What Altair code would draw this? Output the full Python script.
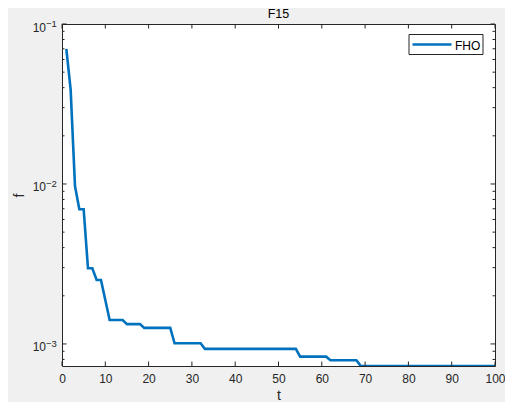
import altair as alt
import pandas as pd

# ---- data ----
t_values = list(range(1, 101))
f_values = (
    [0.0698, 0.0387, 0.0097, 0.00695, 0.00695, 0.00297, 0.00297, 0.00251, 0.00251, 0.00188]
    + [0.00141] * 4      # t = 11..14
    + [0.00133] * 4      # t = 15..18
    + [0.00126] * 7      # t = 19..25
    + [0.00101] * 7      # t = 26..32
    + [0.000931] * 22    # t = 33..54
    + [0.000833] * 7     # t = 55..61
    + [0.000791] * 7     # t = 62..68
    + [0.000728] * 32    # t = 69..100
)
series_name = "FHO"
chart_title = "F15"

x_ticks = [0, 10, 20, 30, 40, 50, 60, 70, 80, 90, 100]
y_major = [0.1, 0.01, 0.001]
y_major_exp = ["\u22121", "\u22122", "\u22123"]
y_minor = [0.09, 0.08, 0.07, 0.06, 0.05, 0.04, 0.03, 0.02,
           0.009, 0.008, 0.007, 0.006, 0.005, 0.004, 0.003, 0.002,
           0.0009, 0.0008]

X_DOMAIN = [0, 100]
Y_DOMAIN = [0.000728, 0.1]

W, H = 433, 342
INK = "#262626"
BLUE = "#0072BD"
FONT = "Liberation Sans"

df = pd.DataFrame({"t": t_values, "f": f_values, "series": [series_name] * len(t_values)})
xt = pd.DataFrame({"t": x_ticks})
ymaj = pd.DataFrame({"f": y_major, "exp": y_major_exp})
ymin = pd.DataFrame({"f": y_minor})
leg = pd.DataFrame({"series": [series_name]})
ttl = pd.DataFrame({"title": [chart_title]})

xs = alt.Scale(domain=X_DOMAIN, nice=False, zero=False)
ys = alt.Scale(type="log", domain=Y_DOMAIN, nice=False)
cs = alt.Scale(domain=[series_name], range=[BLUE])

line = alt.Chart(df).mark_line(strokeWidth=2.6, clip=True).encode(
    x=alt.X("t:Q", scale=xs,
            axis=alt.Axis(title="t", values=x_ticks, ticks=False, domain=False, grid=False,
                          labelFlush=False, labelOverlap=False,
                          labelFontSize=12, labelColor=INK, labelPadding=7, labelFont=FONT,
                          titleFontSize=14, titleFont=FONT, titleColor=INK, titleFontWeight="normal",
                          titlePadding=4)),
    y=alt.Y("f:Q", scale=ys,
            axis=alt.Axis(title="f", labels=False, ticks=False, domain=False, grid=False,
                          titleFontSize=14, titleFont=FONT, titleColor=INK, titleFontWeight="normal",
                          titlePadding=36)),
    color=alt.Color("series:N", scale=cs, legend=None),
)

MAJ, MIN = 4.5, 2.5

xb = alt.Chart(xt).mark_rule(color=INK, strokeWidth=1).encode(
    x=alt.X("t:Q", scale=xs), y=alt.value(H), y2=alt.value(H - MAJ))
xtop = alt.Chart(xt).mark_rule(color=INK, strokeWidth=1).encode(
    x=alt.X("t:Q", scale=xs), y=alt.value(0), y2=alt.value(MAJ))

yl_maj = alt.Chart(ymaj).mark_rule(color=INK, strokeWidth=1).encode(
    y=alt.Y("f:Q", scale=ys), x=alt.value(0), x2=alt.value(MAJ))
yr_maj = alt.Chart(ymaj).mark_rule(color=INK, strokeWidth=1).encode(
    y=alt.Y("f:Q", scale=ys), x=alt.value(W), x2=alt.value(W - MAJ))
yl_min = alt.Chart(ymin).mark_rule(color=INK, strokeWidth=1).encode(
    y=alt.Y("f:Q", scale=ys), x=alt.value(0), x2=alt.value(MIN))
yr_min = alt.Chart(ymin).mark_rule(color=INK, strokeWidth=1).encode(
    y=alt.Y("f:Q", scale=ys), x=alt.value(W), x2=alt.value(W - MIN))

lab_base = alt.Chart(ymaj).mark_text(align="right", baseline="alphabetic", fontSize=12,
                                     font=FONT, color=INK, dy=7.5).encode(
    y=alt.Y("f:Q", scale=ys), x=alt.value(-16), text=alt.value("10"))
lab_exp = alt.Chart(ymaj).mark_text(align="left", baseline="alphabetic", fontSize=9.5,
                                    font=FONT, color=INK, dy=2.7).encode(
    y=alt.Y("f:Q", scale=ys), x=alt.value(-16), text="exp:N")

# legend box drawn in plot coordinates
leg_box = alt.Chart(leg).mark_rect(fill="white", stroke=INK, strokeWidth=1).encode(
    x=alt.value(347), x2=alt.value(421), y=alt.value(10.5), y2=alt.value(30.5))
leg_line = alt.Chart(leg).mark_rule(strokeWidth=2.6).encode(
    x=alt.value(350.5), x2=alt.value(389.5), y=alt.value(20.5),
    color=alt.Color("series:N", scale=cs, legend=None))
leg_text = alt.Chart(leg).mark_text(align="left", baseline="middle", fontSize=12,
                                    font=FONT, color="#000000", dy=1).encode(
    x=alt.value(393), y=alt.value(20.5), text="series:N")

title_mark = alt.Chart(ttl).mark_text(align="center", baseline="alphabetic", fontSize=12.5,
                                      font=FONT, color="#000000").encode(
    x=alt.value(W / 2), y=alt.value(-6.5), text="title:N")

chart = alt.layer(
    line, xb, xtop, yl_maj, yr_maj, yl_min, yr_min, lab_base, lab_exp,
    leg_box, leg_line, leg_text, title_mark
).properties(
    width=W, height=H,
    background="#f0f0f0",
    autosize=alt.AutoSizeParams(type="none"),
    padding={"left": 54, "top": 16, "right": 10, "bottom": 36},
).configure_view(
    stroke=INK, strokeWidth=1, fill="white"
)

chart.save("out.html", embed_options={"renderer": "svg", "actions": False})
